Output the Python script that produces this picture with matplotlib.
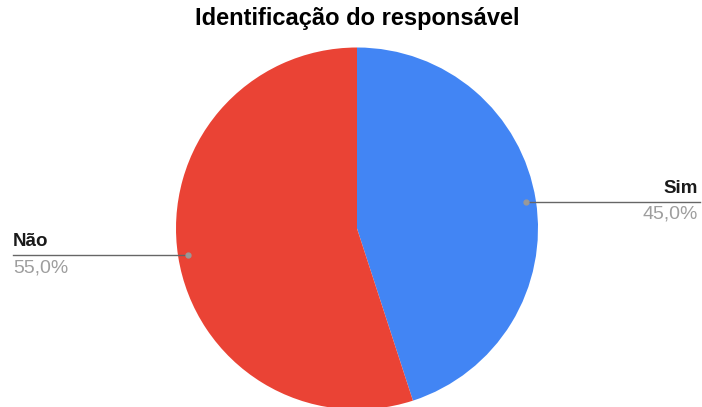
import numpy as np
import matplotlib
matplotlib.use("Agg")
import matplotlib.pyplot as plt

categories = ["Sim", "Não"]
values = [45.0, 55.0]
pct_labels = ["45,0%", "55,0%"]
colors = ["#4285F4", "#EA4335"]

W, H = 702, 407
fig = plt.figure(figsize=(W / 100, H / 100), dpi=100)
ax = fig.add_axes([0, 0, 1, 1])

cx, cy, r = 357, H - 228.5, 181
wedges, _ = ax.pie(values, colors=colors, startangle=90, counterclock=False,
                   center=(cx, cy), radius=r, frame=True,
                   wedgeprops=dict(linewidth=0))
ax.set_xlim(0, W)
ax.set_ylim(0, H)
ax.set_aspect("equal")
ax.axis("off")

font = "Liberation Sans"
for w, cat, pl in zip(wedges, categories, pct_labels):
    mid = np.deg2rad((w.theta1 + w.theta2) / 2)
    dx, dy = cx + 0.945 * r * np.cos(mid), cy + 0.945 * r * np.sin(mid)
    if np.cos(mid) >= 0:
        x_end, ha = 700, "right"
    else:
        x_end, ha = 13, "left"
    ax.plot([dx, x_end], [dy, dy], color="#666666", lw=1, zorder=3)
    ax.plot([dx], [dy], "o", color="#999999", ms=3.5, zorder=4)
    ax.text(x_end - (2 if ha == "right" else 0), dy + 5, cat, ha=ha, va="bottom",
            fontsize=13.5, fontweight="bold", family=font, color="#1a1a1a")
    ax.text(x_end - (2 if ha == "right" else 0), dy - 4, pl, ha=ha, va="top",
            fontsize=14, family=font, color="#9e9e9e")

fig.text(357 / W, 1 - 19 / H, "Identificação do responsável", ha="center", va="center",
         fontsize=17, fontweight="bold", family=font, color="#000000")

fig.savefig("out.png", dpi=100)
